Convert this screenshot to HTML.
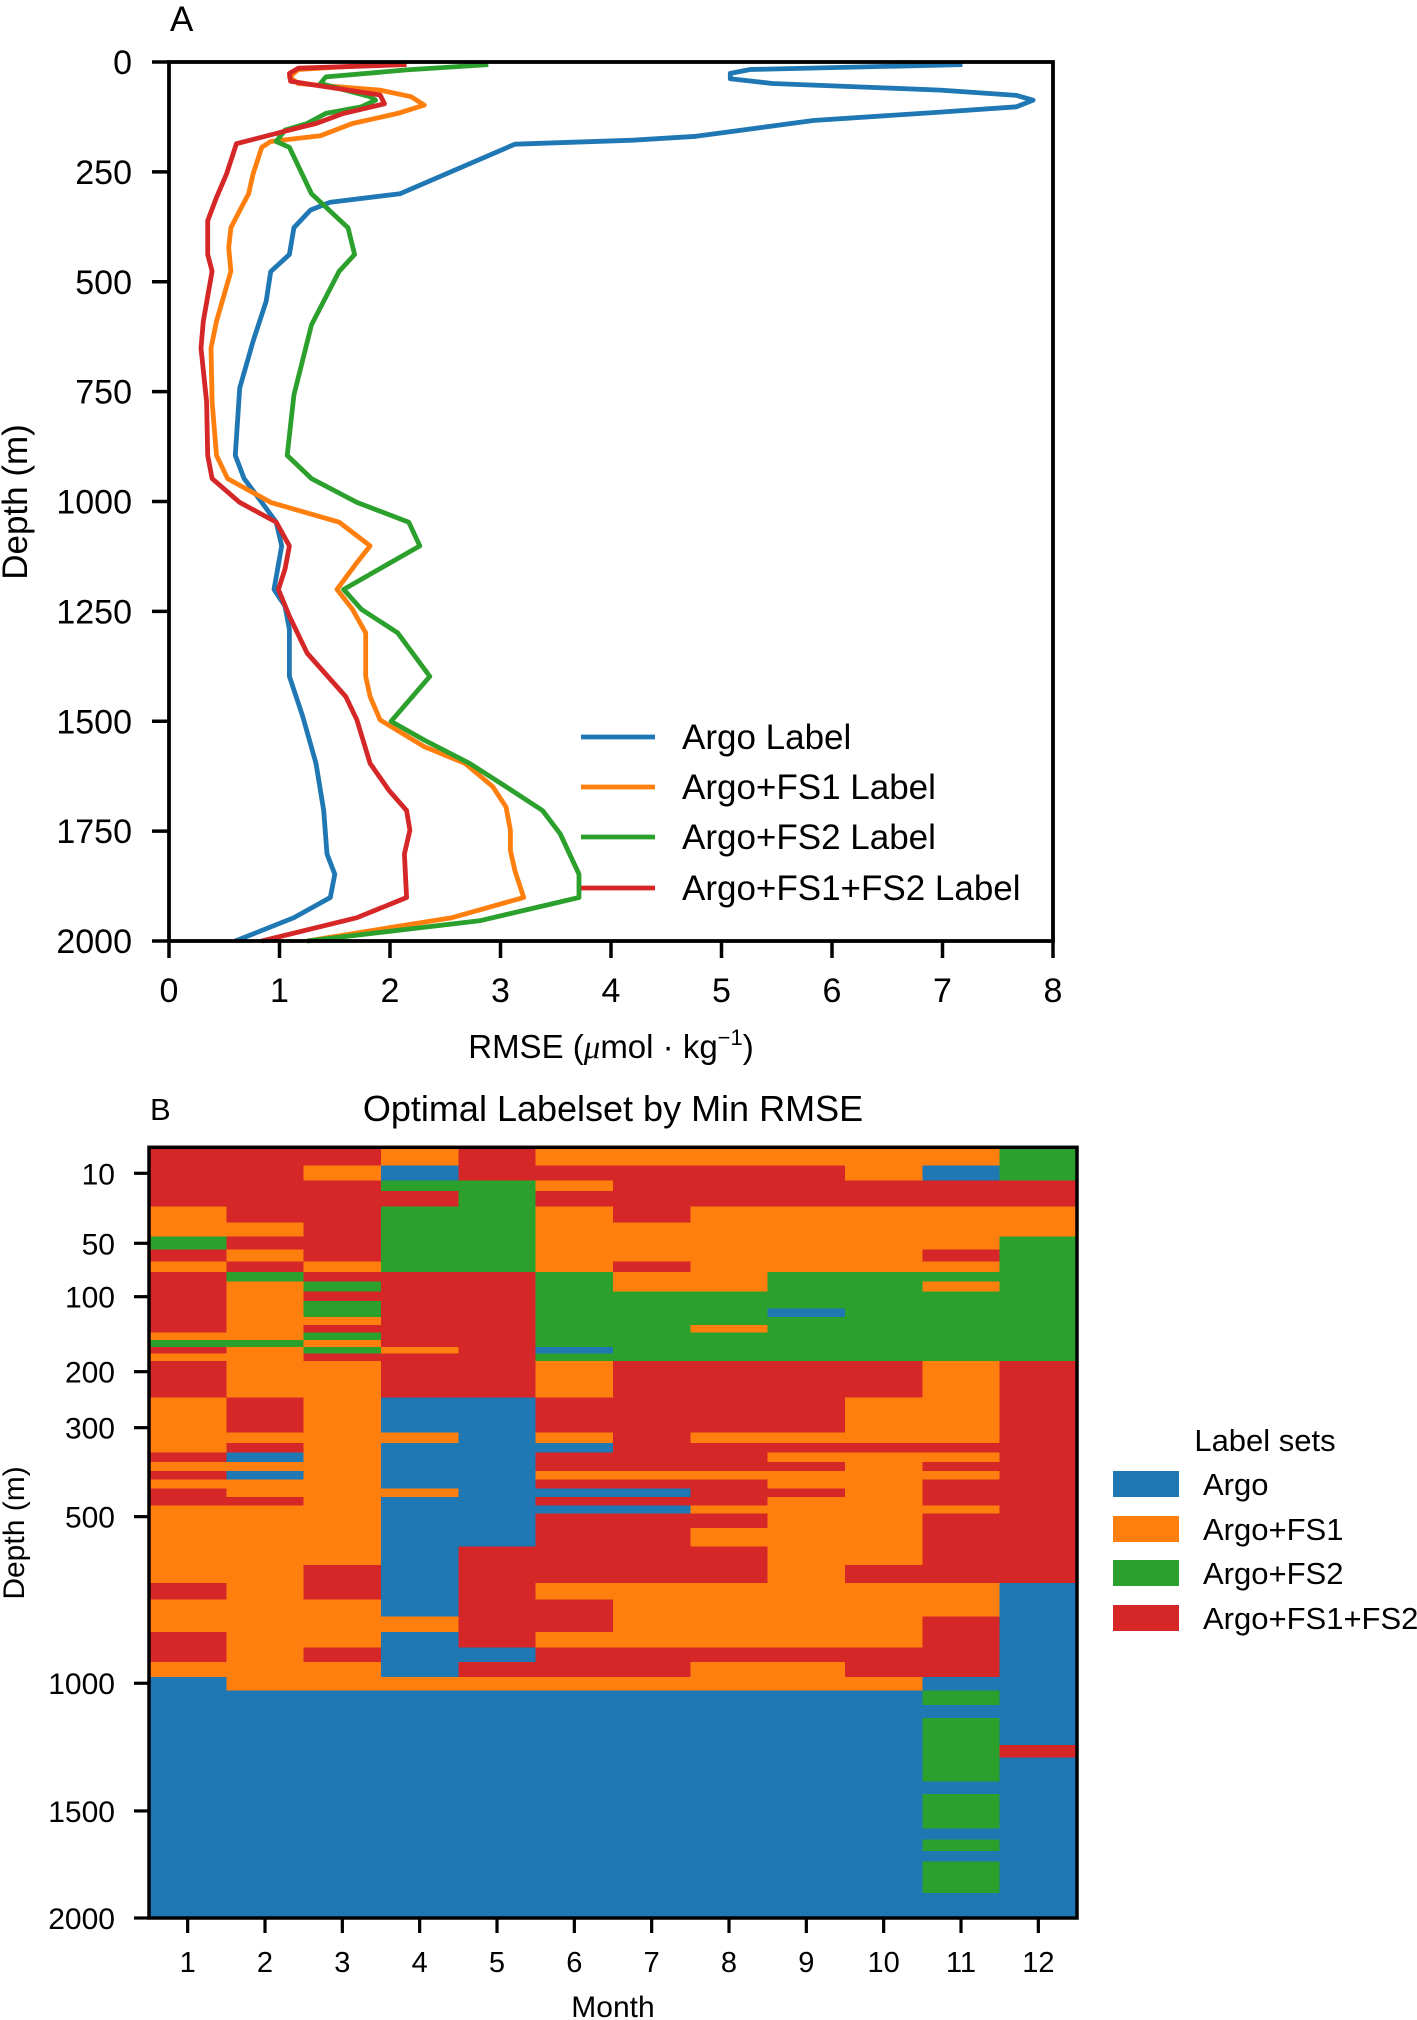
<!DOCTYPE html>
<html><head><meta charset="utf-8"><style>
html,body{margin:0;padding:0;background:#fff}
svg{display:block;font-family:"Liberation Sans",Arial,sans-serif}
</style></head><body>
<svg id="fig" xmlns="http://www.w3.org/2000/svg" width="1417" height="2020" viewBox="0 0 1417 2020">
<g id="panelA"></g>
<g id="panelB"></g>
</svg>
<script>
// ---------- Panel A data ----------
const xTicksA = [0,1,2,3,4,5,6,7,8];
const yTicksA = [0,250,500,750,1000,1250,1500,1750,2000];
const seriesNames = ["Argo Label","Argo+FS1 Label","Argo+FS2 Label","Argo+FS1+FS2 Label"];
const argoDepth = [6,17,26,38,49,64,76,87,102,114,133,169,178,187,300,319,337,377,438,477,544,636,742,895,948,1002,1047,1101,1200,1238,1291,1398,1489,1596,1703,1802,1848,1901,1947,2000];
const argoRmse  = [7.18,5.26,5.08,5.08,5.46,6.98,7.67,7.82,7.67,6.98,5.83,4.77,4.20,3.13,2.09,1.46,1.28,1.13,1.09,0.92,0.88,0.76,0.64,0.60,0.68,0.84,0.97,1.02,0.95,1.05,1.09,1.09,1.21,1.33,1.40,1.43,1.50,1.46,1.13,0.60];
const fs1Depth = [6,17,34,49,64,79,98,117,140,168,181,194,255,300,338,377,422,476,590,651,773,895,948,1002,1047,1101,1139,1200,1245,1299,1398,1444,1497,1558,1596,1649,1695,1748,1794,1840,1901,1947,1970,2000];
const fs1Rmse  = [1.91,1.17,1.09,1.17,1.91,2.19,2.31,2.07,1.66,1.37,0.92,0.84,0.76,0.72,0.64,0.56,0.54,0.56,0.43,0.38,0.39,0.43,0.53,0.92,1.54,1.82,1.70,1.52,1.66,1.78,1.78,1.82,1.91,2.31,2.68,2.93,3.05,3.09,3.09,3.13,3.21,2.56,1.99,1.25];
const fs2Depth = [6,18,34,49,79,87,102,117,140,155,181,194,300,377,438,476,598,758,895,948,1002,1047,1101,1200,1245,1299,1398,1500,1543,1596,1649,1703,1756,1848,1901,1954,2000];
const fs2Rmse  = [2.89,2.15,1.42,1.37,1.82,1.87,1.74,1.42,1.25,1.05,0.97,1.09,1.29,1.62,1.68,1.54,1.29,1.13,1.07,1.29,1.70,2.17,2.27,1.58,1.74,2.07,2.36,2.01,2.31,2.72,3.05,3.38,3.54,3.71,3.71,2.81,1.25];
const fs12Depth = [6,14,26,44,53,75,95,117,140,155,186,255,308,361,438,476,590,651,773,895,948,1002,1047,1101,1154,1200,1261,1345,1444,1497,1596,1657,1703,1748,1802,1901,1947,2000];
const fs12Rmse  = [2.15,1.17,1.09,1.10,1.33,1.91,1.95,1.58,1.33,1.09,0.61,0.52,0.43,0.35,0.35,0.39,0.31,0.29,0.34,0.35,0.39,0.64,0.97,1.09,1.05,0.99,1.09,1.25,1.60,1.70,1.82,1.99,2.15,2.18,2.13,2.15,1.70,0.84];

// ---------- Panel B data ----------
const months = ["1","2","3","4","5","6","7","8","9","10","11","12"];
const labelSets = ["Argo","Argo+FS1","Argo+FS2","Argo+FS1+FS2"];
const yTickDepthsB = [10,50,100,200,300,500,1000,1500,2000];
const rowEdges = [0,7,14,20,29,38,46,56,67,77,86,95,106,116,127,138,148,158,167,176,186,246,311,334,356,377,397,416,437,456,475,493,534,590,645,699,749,799,846,892,936,981,1029,1085,1137,1242,1290,1384,1433,1583,1634,1687,1737,1883,2000];
const bestLabel = [
[3,3,3,1,3,1,1,1,1,1,1,2],
[3,3,1,0,3,3,3,3,3,1,0,2],
[3,3,3,2,2,1,3,3,3,3,3,3],
[3,3,3,3,2,3,3,3,3,3,3,3],
[1,3,3,2,2,1,3,1,1,1,1,1],
[1,1,3,2,2,1,1,1,1,1,1,1],
[2,3,3,2,2,1,1,1,1,1,1,2],
[3,1,3,2,2,1,1,1,1,1,3,2],
[1,3,1,2,2,1,3,1,1,1,1,2],
[3,2,3,3,3,2,1,1,2,2,2,2],
[3,1,2,3,3,2,1,1,2,2,1,2],
[3,1,3,3,3,2,2,2,2,2,2,2],
[3,1,2,3,3,2,2,2,2,2,2,2],
[3,1,2,3,3,2,2,2,0,2,2,2],
[3,1,1,3,3,2,2,2,2,2,2,2],
[3,1,3,3,3,2,2,1,2,2,2,2],
[1,1,2,3,3,2,2,2,2,2,2,2],
[2,2,1,3,3,2,2,2,2,2,2,2],
[3,1,2,1,3,0,2,2,2,2,2,2],
[1,1,3,3,3,2,2,2,2,2,2,2],
[3,1,1,3,3,1,3,3,3,3,1,3],
[1,3,1,0,0,3,3,3,3,1,1,3],
[1,1,1,1,0,1,3,1,1,1,1,3],
[1,3,1,0,0,0,3,3,3,3,3,3],
[3,0,1,0,0,3,3,3,1,1,1,3],
[1,1,1,0,0,3,3,3,3,1,3,3],
[3,0,1,0,0,1,1,1,1,1,1,3],
[1,1,1,0,0,3,3,3,1,1,3,3],
[3,1,1,1,0,0,0,3,3,1,3,3],
[3,3,1,0,0,3,3,3,1,1,3,3],
[1,1,1,0,0,0,0,1,1,1,1,3],
[1,1,1,0,0,3,3,3,1,1,3,3],
[1,1,1,0,0,3,3,1,1,1,3,3],
[1,1,1,0,3,3,3,3,1,1,3,3],
[1,1,3,0,3,3,3,3,1,3,3,3],
[3,1,3,0,3,1,1,1,1,1,1,0],
[1,1,1,0,3,3,1,1,1,1,1,0],
[1,1,1,1,3,3,1,1,1,1,3,0],
[3,1,1,0,3,1,1,1,1,1,3,0],
[3,1,3,0,0,3,3,3,3,3,3,0],
[1,1,1,0,3,3,3,1,1,3,3,0],
[0,1,1,1,1,1,1,1,1,1,0,0],
[0,0,0,0,0,0,0,0,0,0,2,0],
[0,0,0,0,0,0,0,0,0,0,0,0],
[0,0,0,0,0,0,0,0,0,0,2,0],
[0,0,0,0,0,0,0,0,0,0,2,3],
[0,0,0,0,0,0,0,0,0,0,2,0],
[0,0,0,0,0,0,0,0,0,0,0,0],
[0,0,0,0,0,0,0,0,0,0,2,0],
[0,0,0,0,0,0,0,0,0,0,0,0],
[0,0,0,0,0,0,0,0,0,0,2,0],
[0,0,0,0,0,0,0,0,0,0,0,0],
[0,0,0,0,0,0,0,0,0,0,2,0],
[0,0,0,0,0,0,0,0,0,0,0,0]
];

const COLORS = ["#1f77b4","#ff7f0e","#2ca02c","#d62728"];
const NS = "http://www.w3.org/2000/svg";
function mk(parent, tag, attrs, text){
  const e = document.createElementNS(NS, tag);
  for (const k in attrs) e.setAttribute(k, attrs[k]);
  if (text !== undefined) e.textContent = text;
  parent.appendChild(e);
  return e;
}

// ---------- Panel A ----------
const A = document.getElementById('panelA');
const ax = {l:169, r:1053, t:62, b:941};
const xA = v => ax.l + (v/8)*(ax.r-ax.l);
const yA = d => ax.t + (d/2000)*(ax.b-ax.t);

const labA = mk(A,'text',{x:170,y:31,'font-size':35});
labA.textContent='A';



const seriesA = [[argoDepth,argoRmse],[fs1Depth,fs1Rmse],[fs2Depth,fs2Rmse],[fs12Depth,fs12Rmse]];
const seriesKeys = ['argo','argo-fs1','argo-fs2','argo-fs1-fs2'];
seriesA.forEach((s,i)=>{
  const pts = s[0].map((d,j)=>xA(s[1][j]).toFixed(1)+','+yA(d).toFixed(1)).join(' ');
  const pl = mk(A,'polyline',{points:pts,fill:'none',stroke:COLORS[i],'stroke-width':4.8,'stroke-linejoin':'round'});
  
  
});
const frameA = mk(A,'rect',{x:ax.l,y:ax.t,width:ax.r-ax.l,height:ax.b-ax.t,fill:'none',stroke:'#000','stroke-width':3.8});



xTicksA.forEach(v=>{
  const x = xA(v);
  const t = mk(A,'line',{x1:x,y1:ax.b,x2:x,y2:ax.b+17,stroke:'#000','stroke-width':3.5});
  
  
  const tl = mk(A,'text',{x:x,y:1002,'font-size':34,'text-anchor':'middle'},String(v));
  
  
});
yTicksA.forEach(v=>{
  const y = yA(v);
  const t = mk(A,'line',{x1:ax.l-17,y1:y,x2:ax.l,y2:y,stroke:'#000','stroke-width':3.5});
  
  
  const tl = mk(A,'text',{x:ax.l-37,y:y+12,'font-size':34,'text-anchor':'end'},String(v));
  
  
});
const xtA = mk(A,'text',{x:611,y:1058,'font-size':33,'text-anchor':'middle'});
xtA.innerHTML = 'RMSE (<tspan font-family="Liberation Serif,serif" font-style="italic">μ</tspan>mol · kg<tspan dy="-13" font-size="22">−1</tspan><tspan dy="13">)</tspan>';


const ytA = mk(A,'text',{x:0,y:0,'font-size':35,'text-anchor':'middle',transform:'translate(27,502) rotate(-90)'},'Depth (m)');



const legA = mk(A,'g',{});


const legYs = [737,787,837,888];
seriesNames.forEach((n,i)=>{
  const g = mk(legA,'g',{});
  
  
  mk(g,'line',{x1:581,y1:legYs[i],x2:655,y2:legYs[i],stroke:COLORS[i],'stroke-width':4.8});
  mk(g,'text',{x:682,y:legYs[i]+12,'font-size':35},n);
});

// ---------- Panel B ----------
const B = document.getElementById('panelB');
const bx = {l:149, r:1077, t:1147.3, b:1918};
const depthKnots = [0,10,50,100,200,300,500,1000,1500,2000];
const knotFrac = [0,0.03373,0.12455,0.19383,0.29113,0.36379,0.47925,0.69540,0.86108,1];
function yB(d){
  for(let i=1;i<depthKnots.length;i++){
    if(d<=depthKnots[i]){
      const f = knotFrac[i-1]+(d-depthKnots[i-1])/(depthKnots[i]-depthKnots[i-1])*(knotFrac[i]-knotFrac[i-1]);
      return bx.t + f*(bx.b-bx.t);
    }
  }
  return bx.b;
}
const colW = (bx.r-bx.l)/months.length;
const xB = i => bx.l + i*colW;

const labB = mk(B,'text',{x:150,y:1120,'font-size':31},'B');


const titleB = mk(B,'text',{x:613,y:1121,'font-size':36,'text-anchor':'middle'},'Optimal Labelset by Min RMSE');



const cells = mk(B,'g',{'shape-rendering':'crispEdges'});


bestLabel.forEach((row,r)=>{
  const y0 = yB(rowEdges[r]), y1 = yB(rowEdges[r+1]);
  row.forEach((v,c)=>{
    const rc = mk(cells,'rect',{x:xB(c).toFixed(2),y:y0.toFixed(2),width:(colW+0.6).toFixed(2),height:(y1-y0+0.6).toFixed(2),fill:COLORS[v]});
    
    
  });
});
const frameB = mk(B,'rect',{x:bx.l,y:bx.t,width:bx.r-bx.l,height:bx.b-bx.t,fill:'none',stroke:'#000','stroke-width':3.5});



months.forEach((m,i)=>{
  const x = xB(i)+colW/2;
  const t = mk(B,'line',{x1:x,y1:bx.b,x2:x,y2:bx.b+15,stroke:'#000','stroke-width':3.2});
  
  
  const tl = mk(B,'text',{x:x,y:1972,'font-size':29,'text-anchor':'middle'},m);
  
  
});
yTickDepthsB.forEach(d=>{
  const y = yB(d);
  const t = mk(B,'line',{x1:bx.l-15,y1:y,x2:bx.l,y2:y,stroke:'#000','stroke-width':3.2});
  
  
  const tl = mk(B,'text',{x:bx.l-34,y:y+11,'font-size':30,'text-anchor':'end'},String(d));
  
  
});
const xtB = mk(B,'text',{x:613,y:2017,'font-size':30,'text-anchor':'middle'},'Month');


const ytB = mk(B,'text',{x:0,y:0,'font-size':30,'text-anchor':'middle',transform:'translate(24,1533) rotate(-90)'},'Depth (m)');



const legB = mk(B,'g',{});


const lt = mk(legB,'text',{x:1265,y:1451,'font-size':31,'text-anchor':'middle'},'Label sets');


const patchYs = [1471,1516,1560,1605];
labelSets.forEach((n,i)=>{
  const g = mk(legB,'g',{});
  
  
  mk(g,'rect',{x:1113,y:patchYs[i],width:66,height:26,fill:COLORS[i]});
  mk(g,'text',{x:1203,y:patchYs[i]+24,'font-size':31},n);
});
</script>
</body></html>
